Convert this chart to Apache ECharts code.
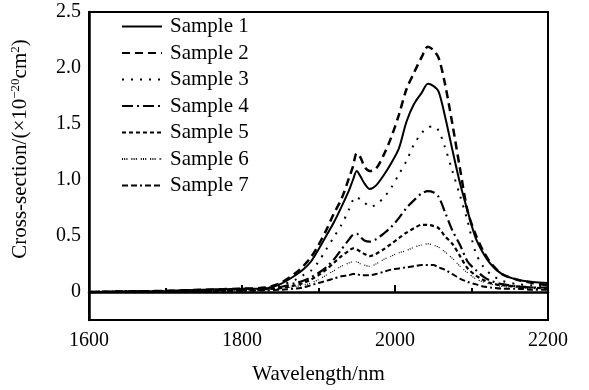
<!DOCTYPE html>
<html>
<head>
<meta charset="utf-8">
<script src="https://cdn.jsdelivr.net/npm/echarts@6/dist/echarts.min.js"></script>
<style>
html,body{margin:0;padding:0;background:#fff;}
#chart{width:589px;height:390px;}
</style>
</head>
<body>
<div id="chart"></div>
<script>
const wavelengths = [1600,1650,1700,1750,1800,1830,1850,1870,1880,1890,1900,1910,1920,1930,1940,1945,1950,1955,1960,1967,1975,1985,1995,2005,2015,2025,2035,2043,2050,2057,2065,2075,2085,2095,2105,2115,2125,2140,2160,2180,2200];

const sample1 = [0.00,0.005,0.01,0.02,0.03,0.03,0.07,0.15,0.20,0.27,0.38,0.50,0.62,0.76,0.91,1.00,1.08,1.03,0.97,0.92,0.95,1.04,1.15,1.28,1.52,1.68,1.78,1.86,1.84,1.79,1.58,1.27,0.97,0.72,0.49,0.35,0.25,0.16,0.11,0.09,0.08];
const sample2 = [0.00,0.005,0.01,0.02,0.03,0.04,0.08,0.17,0.23,0.31,0.42,0.55,0.70,0.83,1.02,1.12,1.24,1.20,1.12,1.08,1.10,1.22,1.38,1.58,1.81,1.96,2.10,2.19,2.16,2.09,1.87,1.50,1.10,0.72,0.52,0.37,0.26,0.16,0.11,0.08,0.06];
const sample3 = [0.00,0.005,0.01,0.015,0.025,0.035,0.06,0.11,0.15,0.19,0.27,0.38,0.49,0.60,0.74,0.82,0.85,0.82,0.80,0.76,0.78,0.84,0.93,1.05,1.17,1.32,1.42,1.47,1.48,1.44,1.30,1.08,0.86,0.63,0.36,0.23,0.16,0.10,0.07,0.06,0.05];
const sample4 = [0.00,0.003,0.008,0.012,0.02,0.03,0.045,0.08,0.10,0.13,0.17,0.22,0.29,0.38,0.47,0.51,0.52,0.49,0.46,0.45,0.47,0.52,0.58,0.66,0.75,0.82,0.88,0.90,0.89,0.85,0.72,0.55,0.42,0.27,0.20,0.14,0.10,0.07,0.05,0.04,0.04];
const sample5 = [0.00,0.003,0.006,0.01,0.015,0.025,0.035,0.06,0.08,0.11,0.15,0.20,0.26,0.32,0.37,0.39,0.38,0.36,0.34,0.32,0.34,0.38,0.43,0.48,0.53,0.57,0.60,0.60,0.59,0.57,0.50,0.43,0.32,0.21,0.15,0.11,0.08,0.06,0.05,0.04,0.03];
const sample6 = [0.00,0.003,0.005,0.008,0.012,0.02,0.03,0.05,0.06,0.08,0.11,0.15,0.19,0.23,0.26,0.27,0.27,0.25,0.24,0.23,0.25,0.29,0.32,0.35,0.37,0.40,0.42,0.43,0.42,0.40,0.36,0.30,0.23,0.17,0.12,0.09,0.07,0.05,0.04,0.03,0.03];
const sample7 = [0.00,0.002,0.004,0.006,0.01,0.015,0.02,0.03,0.04,0.06,0.08,0.10,0.12,0.14,0.15,0.16,0.16,0.15,0.15,0.15,0.16,0.18,0.20,0.21,0.22,0.23,0.24,0.24,0.24,0.22,0.20,0.16,0.12,0.09,0.07,0.05,0.04,0.03,0.03,0.02,0.02];

const seriesNames = ['Sample 1','Sample 2','Sample 3','Sample 4','Sample 5','Sample 6','Sample 7'];
const seriesValues = [sample1,sample2,sample3,sample4,sample5,sample6,sample7];
const xTickLabels = [1600,1800,2000,2200];
const yTickLabels = [0,0.5,1.0,1.5,2.0,2.5];

const styles = [
  {type:'solid', width:2},
  {type:[8,5], width:2.5},
  {type:[2,7], width:2},
  {type:[11,4,2,4], width:2.2},
  {type:[4,3], width:2.2},
  {type:[1,1.2,1,1.2,1,4], width:1.2},
  {type:[6,3,6,3,2,3], width:2}
];

const chart = echarts.init(document.getElementById('chart'), null, {renderer:'canvas'});
const font = 'Liberation Serif';

chart.setOption({
  animation:false,
  backgroundColor:'#fff',
  textStyle:{fontFamily:font, color:'#000'},
  grid:{left:89, right:41, top:12, bottom:68, show:true, borderColor:'#000', borderWidth:2, backgroundColor:'transparent'},
  legend:{
    orient:'vertical', left:121, top:16, padding:0, itemWidth:40, itemHeight:12, itemGap:5.5,
    itemStyle:{opacity:0},
    textStyle:{fontFamily:font, fontSize:21, color:'#000', padding:[0,0,0,3]},
    data:seriesNames
  },
  xAxis:{
    type:'value', min:1600, max:2200, interval:200,
    name:'Wavelength/nm', nameLocation:'middle', nameGap:44,
    nameTextStyle:{fontFamily:font, fontSize:21, color:'#000'},
    axisLine:{lineStyle:{color:'#000', width:2.5}},
    axisTick:{inside:true, length:7, lineStyle:{color:'#000', width:2}},
    minorTick:{show:true, splitNumber:2, length:4, lineStyle:{color:'#000', width:2}},
    axisLabel:{fontFamily:font, fontSize:20, color:'#000', margin:11,
      formatter:function(v){return xTickLabels.indexOf(v)>=0 ? String(v) : '';}},
    splitLine:{show:false}
  },
  yAxis:{
    type:'value', min:-0.25, max:2.5, interval:0.25,
    name:'{a|Cross-section/(×10}{s|−20}{a|cm}{s|2}{a|)}', nameLocation:'middle', nameGap:58, nameRotate:90,
    nameTextStyle:{fontFamily:font, color:'#000', padding:[0,0,0,34],
      rich:{a:{fontFamily:font, fontSize:21, color:'#000'}, s:{fontFamily:font, fontSize:13, color:'#000', verticalAlign:'top', padding:[0,0,9,0]}}},
    axisLine:{lineStyle:{color:'#000', width:2.5}},
    axisTick:{show:false},
    axisLabel:{fontFamily:font, fontSize:20, color:'#000', margin:8,
      formatter:function(v){
        const r = Math.round(v*100)/100;
        for (const t of yTickLabels){ if (Math.abs(t-r)<1e-6) return t===0 ? '0' : t.toFixed(1); }
        return '';
      }},
    splitLine:{show:false}
  },
  series: seriesNames.map(function(n,i){
    return {
      name:n, type:'line', symbol:'none', smooth:0.3,
      data: wavelengths.map(function(w,j){return [w, seriesValues[i][j]];}),
      lineStyle:{color:'#000', type:styles[i].type, width:styles[i].width},
      itemStyle:{color:'#000'}
    };
  })
});
</script>
</body>
</html>
